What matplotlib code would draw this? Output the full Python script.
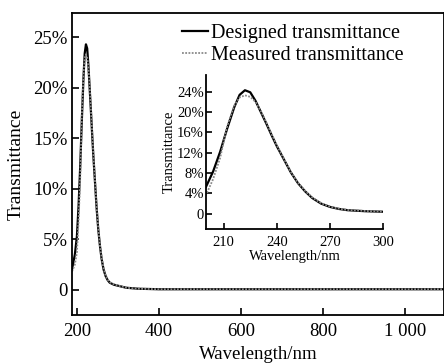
import matplotlib
matplotlib.use("Agg")
import matplotlib.pyplot as plt
from matplotlib.ticker import FixedLocator

# ---- data ----
wl_designed = [188, 195, 200, 204, 208, 212, 216, 219, 222, 225, 228, 231, 234, 237,
               240, 244, 248, 252, 256, 260, 265, 270, 275, 280, 290, 300, 320, 350, 400,
               500, 600, 700, 800, 900, 1000, 1100]
t_designed = [2.0, 3.5, 5.3, 8.3, 12.2, 16.8, 21.0, 23.4, 24.3, 23.9, 22.2, 20.0, 17.8, 15.5,
              13.3, 10.7, 8.1, 6.0, 4.4, 3.1, 2.0, 1.35, 0.95, 0.7, 0.5, 0.4, 0.2, 0.1, 0.05,
              0.05, 0.05, 0.05, 0.05, 0.05, 0.05, 0.05]
wl_measured = [188, 195, 200, 204, 208, 212, 216, 219, 222, 225, 228, 231, 234, 237,
               240, 244, 248, 252, 256, 260, 265, 270, 275, 280, 290, 300, 320, 350, 400,
               500, 600, 700, 800, 900, 1000, 1100]
t_measured = [1.8, 2.5, 3.7, 6.8, 11.0, 17.3, 21.3, 22.9, 23.3, 23.0, 22.0, 20.2, 18.0, 15.7,
              13.5, 10.8, 8.2, 6.1, 4.5, 3.2, 2.1, 1.4, 1.0, 0.75, 0.55, 0.42, 0.2, 0.1, 0.05,
              0.05, 0.05, 0.05, 0.05, 0.05, 0.05, 0.05]

main_xticks = [200, 400, 600, 800, 1000]
main_xlabels = ["200", "400", "600", "800", "1 000"]
main_yticks = [0, 5, 10, 15, 20, 25]
main_ylabels = ["0", "5%", "10%", "15%", "20%", "25%"]
inset_xticks = [210, 240, 270, 300]
inset_xlabels = ["210", "240", "270", "300"]
inset_yticks = [0, 4, 8, 12, 16, 20, 24]
inset_ylabels = ["0", "4%", "8%", "12%", "16%", "20%", "24%"]

plt.rcParams['font.family'] = ['Liberation Serif', 'DejaVu Serif']

W, H = 444, 363
fig = plt.figure(figsize=(W / 100, H / 100), dpi=100)

def px_axes(l, t, r, b):
    return [l / W, 1 - b / H, (r - l) / W, (b - t) / H]

ax = fig.add_axes(px_axes(72, 13, 444, 315))
ax.plot(wl_designed, t_designed, color='black', lw=1.6, solid_joinstyle='round')
ax.plot(wl_measured, t_measured, color='#8a8a8a', lw=1.3, ls=(0, (1, 0.8)))
ax.set_xlim(188, 1095)
ax.set_ylim(-2.5, 27.4)
ax.xaxis.set_major_locator(FixedLocator(main_xticks))
ax.set_xticklabels(main_xlabels)
ax.yaxis.set_major_locator(FixedLocator(main_yticks))
ax.set_yticklabels(main_ylabels)
ax.tick_params(direction='in', length=5, width=1.2, labelsize=13.5, color='black')
ax.tick_params(axis='x', pad=6)
ax.tick_params(axis='y', pad=3)
for s in ax.spines.values():
    s.set_linewidth(1.3)
ax.set_xlabel("Wavelength/nm", fontsize=13.5, labelpad=4)
ax.set_ylabel("Transmittance", fontsize=14, labelpad=6)

leg = ax.legend(["Designed transmittance", "Measured transmittance"],
                loc='upper left', bbox_to_anchor=(182 / W, 1 - 24 / H),
                bbox_transform=fig.transFigure, frameon=False, fontsize=14.5,
                handlelength=1.3, handletextpad=0.15, labelspacing=0.12,
                borderpad=0, borderaxespad=0)

ins = fig.add_axes(px_axes(206, 75, 383, 229))
ins.plot(wl_designed, t_designed, color='black', lw=1.6)
ins.plot(wl_measured, t_measured, color='#8a8a8a', lw=1.3, ls=(0, (1, 0.8)))
ins.set_xlim(200, 300)
ins.set_ylim(-3, 27.3)
ins.xaxis.set_major_locator(FixedLocator(inset_xticks))
ins.set_xticklabels(inset_xlabels)
ins.yaxis.set_major_locator(FixedLocator(inset_yticks))
ins.set_yticklabels(inset_ylabels)
ins.spines['top'].set_visible(False)
ins.spines['right'].set_visible(False)
for s in ['left', 'bottom']:
    ins.spines[s].set_linewidth(1.3)
ins.patch.set_alpha(0)
ins.tick_params(direction='in', length=4, width=1.2, labelsize=10.5)
ins.tick_params(axis='x', pad=5)
ins.tick_params(axis='y', pad=1.5)
ins.set_xlabel("Wavelength/nm", fontsize=10.5, labelpad=1)
ins.set_ylabel("Transmittance", fontsize=10.5, labelpad=1)

fig.savefig("out.png", dpi=100)
